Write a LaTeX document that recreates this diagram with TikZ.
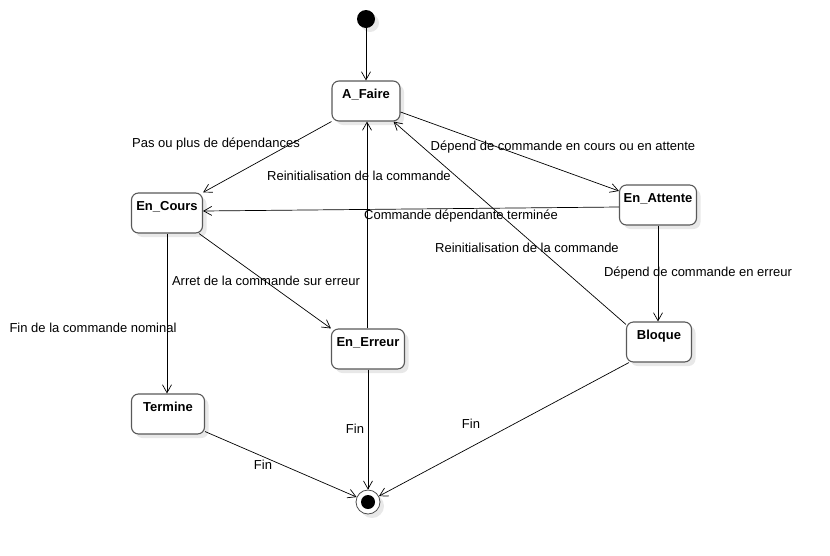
\documentclass[tikz,border=0pt]{standalone}
\usepackage{fontspec}
\setmainfont{Liberation Sans}
\usetikzlibrary{arrows.meta,shadows}

\begin{document}
\begin{tikzpicture}[x=1pt,y=-1pt,
  ombre/.style={drop shadow={shadow xshift=4pt,shadow yshift=-4pt,fill=black!9,opacity=1}},
  etat/.style={draw=black!65,line width=1.1pt,rounded corners=7pt,fill=white,ombre,
    minimum width=#1,minimum height=40pt,text height=11pt,text depth=17pt,
    inner ysep=6pt,inner xsep=0pt,font=\fontsize{13}{15}\selectfont\bfseries},
  depart/.style={circle,fill=black,minimum size=18pt,inner sep=0pt,ombre},
  arrivee/.style={circle,draw=black!70,line width=0.8pt,fill=white,minimum size=24pt,inner sep=0pt,ombre,
    path picture={\fill[black] (path picture bounding box.center) circle (7pt);}},
  lbl/.style={font=\fontsize{13}{15}\selectfont,inner sep=0pt},
  trans/.style={draw=black,line width=0.7pt,-{Straight Barb[length=8pt,width=9pt]}}]
\useasboundingbox (0,0) rectangle (830,555);

% etats
\node[depart] (debut) at (366,19) {};
\node[etat=68pt] (afaire) at (366,101) {A\_Faire};
\node[etat=71pt] (encours) at (167,213) {En\_Cours};
\node[etat=77pt] (enattente) at (658,205) {En\_Attente};
\node[etat=73pt] (enerreur) at (368,349) {En\_Erreur};
\node[etat=73pt] (termine) at (168,414) {Termine};
\node[etat=65pt] (bloque) at (659,342) {Bloque};
\node[arrivee] (fin) at (368,502) {};

% transitions
\draw[trans] (debut) -- (afaire.north -| debut);
\draw[trans] (afaire.south west) -- (encours.north east);
\draw[trans] ([yshift=-11pt]afaire.east) -- ([yshift=14pt]enattente.west);
\draw[trans] ([yshift=-2pt]enattente.west) -- ([yshift=2pt]encours.east);
\draw[trans] ([xshift=-4pt]encours.south east) -- (enerreur.north west);
\draw[trans] (encours.south) -- (encours.south |- termine.north);
\draw[trans] ([xshift=-1pt]enerreur.north) -- ([xshift=-1pt]enerreur.north |- afaire.south);
\draw[trans] ([yshift=-3pt]bloque.north west) -- ([xshift=-7pt]afaire.south east);
\draw[trans] (enattente.south) -- (enattente.south |- bloque.north);
\draw[trans] ([yshift=3pt]termine.south east) -- (fin);
\draw[trans] (enerreur.south) -- (fin);
\draw[trans] ([xshift=3pt]bloque.south west) -- (fin);

% libelles
\node[lbl] (l1) at (216,144) {Pas ou plus de dépendances};
\node[lbl] (l2) at (563,147) {Dépend de commande en cours ou en attente};
\node[lbl] (l3) at (461,216) {Commande dépendante terminée};
\node[lbl] (l4) at (266,281) {Arret de la commande sur erreur};
\node[lbl] (l5) at (93,328) {Fin de la commande nominal};
\node[lbl] (l6) at (359,176) {Reinitialisation de la commande};
\node[lbl] (l7) at (527,248) {Reinitialisation de la commande};
\node[lbl] (l8) at (698,273) {Dépend de commande en erreur};
\node[lbl] (l9) at (263,465) {Fin};
\node[lbl] (l10) at (355,429) {Fin};
\node[lbl] (l11) at (471,424) {Fin};
\end{tikzpicture}
\end{document}
